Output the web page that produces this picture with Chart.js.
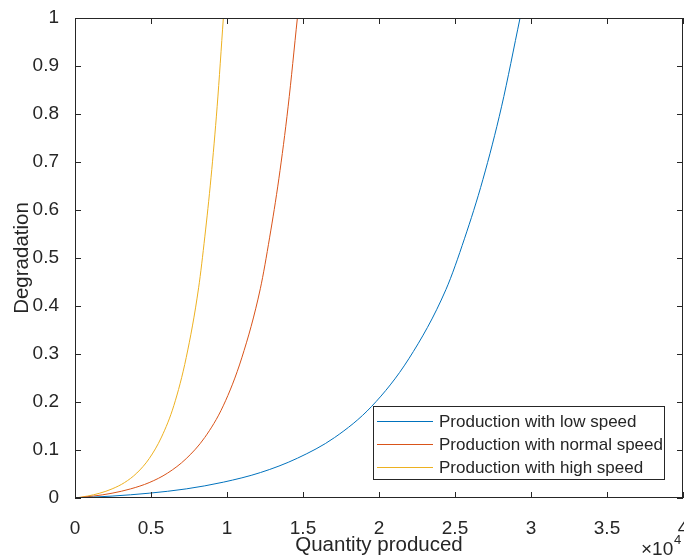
<!DOCTYPE html>
<html lang="en">
<head>
<meta charset="UTF-8">
<title>Degradation vs quantity produced</title>
<script src="https://cdn.jsdelivr.net/npm/chart.js"></script>
<style>
  html, body { margin: 0; padding: 0; background: #fff; }
</style>
</head>
<body>
<canvas id="myChart" width="684" height="558"></canvas>

<script>
// values (quantity in units, degradation 0..1)
const qtyLow  = [0, 2440, 4880, 7320, 9760, 12200, 14640, 17080, 19520, 21960, 24400, 25620, 26840, 28060, 29280];
const degLow  = [0, 0.004, 0.010, 0.019, 0.033, 0.053, 0.083, 0.126, 0.191, 0.290, 0.434, 0.540, 0.664, 0.815, 1.0];

const qtyNormal = [0, 1219, 2438, 3658, 4877, 6096, 7315, 8534, 9753, 10973, 12192, 12801, 13411, 14020, 14630];
const degNormal = [0, 0.004, 0.010, 0.019, 0.032, 0.052, 0.082, 0.126, 0.192, 0.292, 0.436, 0.542, 0.665, 0.815, 1.0];

const qtyHigh = [0, 813, 1627, 2440, 3253, 4067, 4880, 5693, 6507, 7320, 8133, 8540, 8947, 9353, 9760];
const degHigh = [0, 0.004, 0.010, 0.019, 0.032, 0.052, 0.082, 0.127, 0.193, 0.293, 0.438, 0.544, 0.667, 0.816, 1.0];

const seriesNames = ['Production with low speed', 'Production with normal speed', 'Production with high speed'];
const seriesColors = ['#0072BD', '#D95319', '#EDB120'];

const xTicks = [0, 5000, 10000, 15000, 20000, 25000, 30000, 35000, 40000];
const yTicks = [0, 0.1, 0.2, 0.3, 0.4, 0.5, 0.6, 0.7, 0.8, 0.9, 1];

const axisColor = '#262626';
const fontFamily = '"Liberation Sans", Arial, Helvetica, sans-serif';

function toPoints(qty, deg) {
    return qty.map((q, i) => ({ x: q, y: deg[i] }));
}

// box round the axes with inward ticks on all four sides, like MATLAB
const matlabBox = {
    id: 'matlabBox',
    afterDraw(chart) {
        const { ctx, chartArea: a, scales: { x, y } } = chart;
        ctx.save();
        ctx.strokeStyle = axisColor;
        ctx.lineWidth = 1;
        ctx.beginPath();
        xTicks.forEach(v => {
            const px = Math.round(x.getPixelForValue(v)) + 0.5;
            ctx.moveTo(px, a.bottom); ctx.lineTo(px, a.bottom - 6);
            ctx.moveTo(px, a.top); ctx.lineTo(px, a.top + 6);
        });
        yTicks.forEach(v => {
            const py = Math.round(y.getPixelForValue(v)) + 0.5;
            ctx.moveTo(a.left, py); ctx.lineTo(a.left + 6, py);
            ctx.moveTo(a.right, py); ctx.lineTo(a.right - 6, py);
        });
        ctx.stroke();
        ctx.strokeRect(a.left + 0.5, a.top + 0.5, a.width - 1, a.height - 1);

        // exponent label under the x axis
        ctx.fillStyle = axisColor;
        ctx.textBaseline = 'alphabetic';
        ctx.textAlign = 'left';
        ctx.font = '19px ' + fontFamily;
        ctx.fillText('\u00d710', a.right - 42, a.bottom + 57);
        ctx.font = '13px ' + fontFamily;
        ctx.fillText('4', a.right - 9, a.bottom + 46);
        ctx.restore();
    }
};

// legend box inside the lower right corner of the axes
const boxLegend = {
    id: 'boxLegend',
    afterDraw(chart) {
        const { ctx, chartArea: a } = chart;
        const w = 291, h = 72.5;
        const left = a.right - 19 - w;
        const top = a.bottom - 19.5 - h;
        ctx.save();
        ctx.fillStyle = '#fff';
        ctx.fillRect(left, top, w, h);
        ctx.strokeStyle = axisColor;
        ctx.lineWidth = 1;
        ctx.strokeRect(Math.round(left) + 0.5, Math.round(top) + 0.5, Math.round(w), Math.round(h));
        ctx.font = '17px ' + fontFamily;
        ctx.textBaseline = 'middle';
        ctx.textAlign = 'left';
        chart.data.datasets.forEach((ds, i) => {
            const rowY = Math.round(top + 14.5 + i * 23.2) + 0.5;
            ctx.strokeStyle = ds.borderColor;
            ctx.beginPath();
            ctx.moveTo(left + 4, rowY);
            ctx.lineTo(left + 60, rowY);
            ctx.stroke();
            ctx.fillStyle = axisColor;
            ctx.fillText(ds.label, left + 66, rowY + 1);
        });
        ctx.restore();
    }
};

Chart.defaults.font.family = fontFamily;
Chart.defaults.color = axisColor;

const ctx = document.getElementById('myChart').getContext('2d');
const myChart = new Chart(ctx, {
    type: 'line',
    data: {
        datasets: [
            { label: seriesNames[0], data: toPoints(qtyLow, degLow) },
            { label: seriesNames[1], data: toPoints(qtyNormal, degNormal) },
            { label: seriesNames[2], data: toPoints(qtyHigh, degHigh) }
        ].map((ds, i) => Object.assign(ds, {
            borderColor: seriesColors[i],
            borderWidth: 1,
            pointRadius: 0,
            fill: false,
            cubicInterpolationMode: 'monotone'
        }))
    },
    options: {
        responsive: false,
        animation: false,
        layout: { padding: { top: 18, right: 1, left: 0, bottom: 0 } },
        plugins: {
            legend: { display: false },
            tooltip: { enabled: false }
        },
        scales: {
            x: {
                type: 'linear',
                min: 0,
                max: 40000,
                grid: { display: false },
                border: { display: false },
                ticks: {
                    padding: 11,
                    maxRotation: 0,
                    autoSkip: false,
                    font: { size: 19 },
                    callback: v => String(v / 10000)
                },
                afterBuildTicks: s => { s.ticks = xTicks.map(v => ({ value: v })); },
                afterFit: s => { s.height = 60; s.paddingLeft = 0; s.paddingRight = 0; },
                title: {
                    display: true,
                    text: 'Quantity produced',
                    font: { size: 20.5 },
                    padding: { top: 0, bottom: 0 }
                }
            },
            y: {
                type: 'linear',
                min: 0,
                max: 1,
                grid: { display: false },
                border: { display: false },
                ticks: {
                    padding: 8,
                    autoSkip: false,
                    font: { size: 19 },
                    callback: v => String(v)
                },
                afterBuildTicks: s => { s.ticks = yTicks.map(v => ({ value: v })); },
                afterFit: s => { s.width = 75; s.paddingTop = 0; s.paddingBottom = 0; },
                title: {
                    display: true,
                    text: 'Degradation',
                    font: { size: 20.5 },
                    padding: { top: 10, bottom: 0 }
                }
            }
        }
    },
    plugins: [matlabBox, boxLegend]
});
</script>
</body>
</html>
